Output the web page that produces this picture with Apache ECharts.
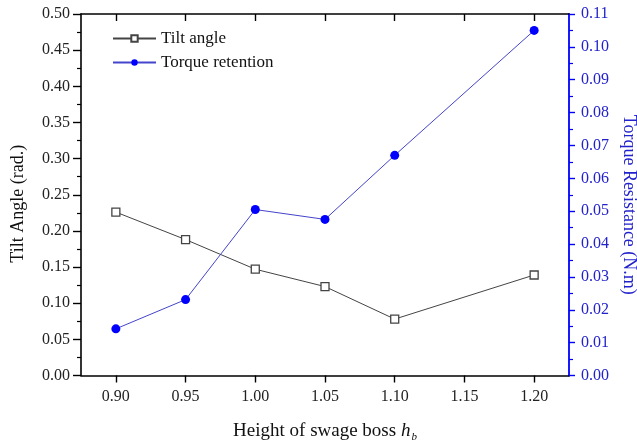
<!DOCTYPE html>
<html>
<head>
<meta charset="utf-8">
<script src="https://cdn.jsdelivr.net/npm/echarts@6/dist/echarts.min.js"></script>
<style>html,body{margin:0;padding:0;background:#fff;}#c{width:637px;height:446px;}</style>
</head>
<body>
<div id="c"></div>
<script>
// Data
const heights = [0.90, 0.95, 1.00, 1.05, 1.10, 1.20];
const tiltAngle = [0.226, 0.188, 0.147, 0.123, 0.078, 0.139];
const torqueRetention = [0.0142, 0.0231, 0.0505, 0.0475, 0.067, 0.105];
const xTicks = [0.90, 0.95, 1.00, 1.05, 1.10, 1.15, 1.20];
const seriesNames = ['Tilt angle', 'Torque retention'];

const FONT = '"Liberation Serif", "Times New Roman", serif';
const BLUE = '#0000ff';
const BLUE_TXT = '#2222cc';

const chart = echarts.init(document.getElementById('c'), null, {renderer: 'canvas'});
const fmt2 = v => Number(v).toFixed(2);

chart.setOption({
  animation: false,
  backgroundColor: '#fff',
  grid: {left: 81, right: 68, top: 14, bottom: 70.5, containLabel: false, outerBoundsMode: 'none'},
  legend: {
    orient: 'vertical', left: 107, top: 25,
    itemWidth: 43, itemHeight: 8, itemGap: 7,
    textStyle: {fontFamily: FONT, fontSize: 17, color: '#111'},
    data: seriesNames
  },
  xAxis: [{
    type: 'value', min: 0.875, max: 1.225, position: 'bottom',
    name: '{n|Height of swage boss }{i|h}{s|b}',
    nameLocation: 'middle', nameGap: 44,
    nameTextStyle: {
      fontFamily: FONT, fontSize: 19, color: '#111',
      rich: {
        n: {fontFamily: FONT, fontSize: 19, color: '#111'},
        i: {fontFamily: FONT, fontSize: 19, fontStyle: 'italic', color: '#111'},
        s: {fontFamily: FONT, fontSize: 11, fontStyle: 'italic', color: '#111', padding: [12, 0, 0, 1]}
      }
    },
    axisLine: {show: true, onZero: false, lineStyle: {color: '#000', width: 1.6}},
    axisTick: {show: true, inside: false, length: 7, customValues: xTicks, lineStyle: {color: '#000', width: 1.4}},
    minorTick: {show: false},
    axisLabel: {customValues: xTicks, formatter: fmt2, margin: 13, fontFamily: FONT, fontSize: 16, color: '#222'},
    splitLine: {show: false}
  }, {
    type: 'value', min: 0.875, max: 1.225, position: 'top',
    axisLine: {show: true, onZero: false, lineStyle: {color: '#000', width: 1.6}},
    axisTick: {show: true, inside: true, length: 7, customValues: xTicks, lineStyle: {color: '#000', width: 1.4}},
    axisLabel: {show: false},
    splitLine: {show: false}
  }],
  yAxis: [{
    type: 'value', min: 0, max: 0.5, interval: 0.05, position: 'left',
    name: 'Tilt Angle (rad.)', nameLocation: 'middle', nameGap: 54,
    nameTextStyle: {fontFamily: FONT, fontSize: 18, color: '#111', padding: [0, 18, 0, 0]},
    axisLine: {show: true, onZero: false, lineStyle: {color: '#000', width: 1.6}},
    axisTick: {show: true, inside: false, length: 8, lineStyle: {color: '#000', width: 1.4}},
    minorTick: {show: true, splitNumber: 2, length: 4, lineStyle: {color: '#000', width: 1.2}},
    axisLabel: {formatter: fmt2, margin: 11, fontFamily: FONT, fontSize: 16, color: '#222'},
    splitLine: {show: false}
  }, {
    type: 'value', min: 0, max: 0.11, interval: 0.01, position: 'right',
    name: 'Torque Resistance (N.m)', nameLocation: 'middle', nameGap: 50, nameRotate: -90,
    nameTextStyle: {fontFamily: FONT, fontSize: 18, color: BLUE_TXT, padding: [0, 0, 0, 20]},
    axisLine: {show: true, onZero: false, lineStyle: {color: BLUE, width: 1.8}},
    axisTick: {show: true, inside: false, length: 6, lineStyle: {color: BLUE, width: 1.4}},
    minorTick: {show: true, splitNumber: 2, length: 4, lineStyle: {color: BLUE, width: 1.2}},
    axisLabel: {formatter: fmt2, margin: 12, fontFamily: FONT, fontSize: 16, color: BLUE_TXT},
    splitLine: {show: false}
  }],
  series: [{
    name: seriesNames[0], type: 'line', xAxisIndex: 0, yAxisIndex: 0,
    data: heights.map((h, i) => [h, tiltAngle[i]]),
    symbol: 'rect', symbolSize: 8,
    lineStyle: {color: '#444', width: 1},
    itemStyle: {color: '#fff', borderColor: '#444', borderWidth: 1.3},
    z: 3
  }, {
    name: seriesNames[1], type: 'line', xAxisIndex: 0, yAxisIndex: 1,
    data: heights.map((h, i) => [h, torqueRetention[i]]),
    symbol: 'circle', symbolSize: 9,
    lineStyle: {color: '#4444cc', width: 1},
    itemStyle: {color: BLUE, borderColor: BLUE, borderWidth: 0},
    z: 4
  }]
});
</script>
</body>
</html>
